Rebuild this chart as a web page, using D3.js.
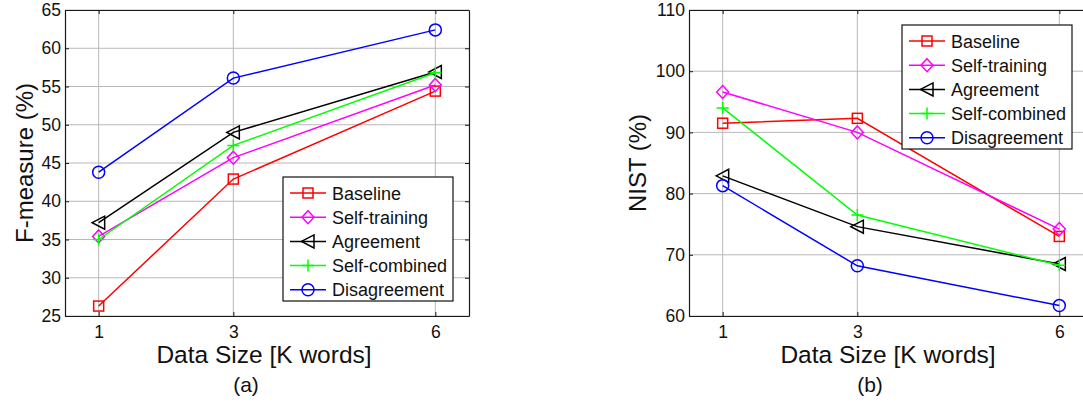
<!DOCTYPE html>
<html>
<head>
<meta charset="utf-8">
<script src="https://cdn.jsdelivr.net/npm/d3@7"></script>
<style>
  body { margin: 0; background: #fff; }
  svg { display: block; }
  text { font-family: "Liberation Sans", Arial, sans-serif; fill: #111; }
</style>
</head>
<body>
<svg id="fig"></svg>
<script>
// data sizes on the x axis (K words)
var sizes = [1, 3, 6];
var seriesNames = ["Baseline", "Self-training", "Agreement", "Self-combined", "Disagreement"];

// (a) F-measure (%)
var fBaseline     = [26.3, 42.9, 54.4];
var fSelfTraining = [35.4, 45.7, 55.2];
var fAgreement    = [37.2, 49.0, 56.9];
var fSelfCombined = [35.0, 47.3, 56.8];
var fDisagreement = [43.8, 56.1, 62.4];

// (b) NIST (%)
var nBaseline     = [91.5, 92.3, 73.0];
var nSelfTraining = [96.6, 90.0, 74.2];
var nAgreement    = [82.9, 74.6, 68.5];
var nSelfCombined = [94.0, 76.5, 68.3];
var nDisagreement = [81.3, 68.2, 61.7];

var fTicks = [25, 30, 35, 40, 45, 50, 55, 60, 65];
var nTicks = [60, 70, 80, 90, 100, 110];

var width = 1083;
var height = 412;

var colors = ["#ff0000", "#ff00ff", "#000000", "#00ff00", "#0000ff"];
var markers = ["square", "diamond", "triangleLeft", "plus", "circle"];

var svg = d3.select('#fig')
    .attr('width', width)
    .attr('height', height);

drawPanel({
    left: 65, top: 10, w: 404, h: 306,
    yDomain: [25, 65], yTicks: fTicks,
    yLabel: 'F-measure (%)', yLabelX: 33,
    series: [fBaseline, fSelfTraining, fAgreement, fSelfCombined, fDisagreement],
    legend: {x: 283, y: 177},
    tag: '(a)'
});

drawPanel({
    left: 689, top: 10, w: 404, h: 306,
    yDomain: [60, 110], yTicks: nTicks,
    yLabel: 'NIST (%)', yLabelX: 646,
    series: [nBaseline, nSelfTraining, nAgreement, nSelfCombined, nDisagreement],
    legend: {x: 902, y: 25},
    tag: '(b)'
});

//HELPERS
function drawPanel(cfg) {
    var x = d3.scaleLinear().domain([0.5, 6.5]).range([cfg.left, cfg.left + cfg.w]);
    var y = d3.scaleLinear().domain(cfg.yDomain).range([cfg.top + cfg.h, cfg.top]);
    var g = svg.append('g');

    // grid
    g.selectAll('.gx').data(sizes).enter().append('line')
        .attr('x1', d => x(d)).attr('x2', d => x(d))
        .attr('y1', cfg.top).attr('y2', cfg.top + cfg.h)
        .attr('stroke', '#b8b8b8').attr('stroke-width', 1);
    g.selectAll('.gy').data(cfg.yTicks).enter().append('line')
        .attr('x1', cfg.left).attr('x2', cfg.left + cfg.w)
        .attr('y1', d => y(d)).attr('y2', d => y(d))
        .attr('stroke', '#b8b8b8').attr('stroke-width', 1);

    // axes: ticks inside, labels outside
    var bottom = g.append('g')
        .attr('transform', `translate(0, ${cfg.top + cfg.h})`)
        .call(d3.axisBottom(x).tickValues(sizes).tickFormat(d3.format('d'))
            .tickSizeInner(-4).tickSizeOuter(0).tickPadding(10));
    var topAx = g.append('g')
        .attr('transform', `translate(0, ${cfg.top})`)
        .call(d3.axisTop(x).tickValues(sizes).tickSizeInner(-4).tickSizeOuter(0).tickFormat(''));
    var leftAx = g.append('g')
        .attr('transform', `translate(${cfg.left}, 0)`)
        .call(d3.axisLeft(y).tickValues(cfg.yTicks).tickFormat(d3.format('d'))
            .tickSizeInner(-4).tickSizeOuter(0).tickPadding(4));
    var rightAx = g.append('g')
        .attr('transform', `translate(${cfg.left + cfg.w}, 0)`)
        .call(d3.axisRight(y).tickValues(cfg.yTicks).tickSizeInner(-4).tickSizeOuter(0).tickFormat(''));
    [bottom, topAx, leftAx, rightAx].forEach(function(a) {
        a.select('.domain').attr('stroke', '#1a1a1a').attr('stroke-width', 1.2);
        a.selectAll('.tick line').attr('stroke', '#1a1a1a');
        a.selectAll('.tick text').attr('font-size', 17.5).attr('fill', '#111');
    });

    // lines + markers
    var line = d3.line().x((d, i) => x(sizes[i])).y(d => y(d));
    cfg.series.forEach(function(vals, s) {
        g.append('path')
            .attr('d', line(vals))
            .attr('fill', 'none')
            .attr('stroke', colors[s])
            .attr('stroke-width', 1.5);
        vals.forEach(function(v, i) {
            drawMarker(g, markers[s], x(sizes[i]), y(v), colors[s]);
        });
    });

    // axis labels
    g.append('text')
        .attr('transform', `translate(${cfg.yLabelX}, ${cfg.top + cfg.h / 2}) rotate(-90)`)
        .attr('text-anchor', 'middle')
        .attr('font-size', 24)
        .text(cfg.yLabel);
    g.append('text')
        .attr('x', cfg.left + cfg.w / 2 - 3)
        .attr('y', 363)
        .attr('text-anchor', 'middle')
        .attr('font-size', 24.5)
        .text('Data Size [K words]');
    g.append('text')
        .attr('x', cfg.left + 181)
        .attr('y', 392)
        .attr('text-anchor', 'middle')
        .attr('font-size', 21)
        .text(cfg.tag);

    // legend
    var lg = g.append('g').attr('transform', `translate(${cfg.legend.x}, ${cfg.legend.y})`);
    lg.append('rect')
        .attr('width', 170).attr('height', 124)
        .attr('fill', '#fff').attr('stroke', '#111').attr('stroke-width', 1.2);
    seriesNames.forEach(function(name, s) {
        var cy = 16 + s * 24.2;
        lg.append('line')
            .attr('x1', 7).attr('x2', 43)
            .attr('y1', cy).attr('y2', cy)
            .attr('stroke', colors[s]).attr('stroke-width', 1.5);
        drawMarker(lg, markers[s], 25, cy, colors[s]);
        lg.append('text')
            .attr('x', 49).attr('y', cy + 6.5)
            .attr('font-size', 18)
            .text(name);
    });
}

function drawMarker(parent, type, cx, cy, color) {
    var m;
    if (type === 'square') {
        m = parent.append('rect')
            .attr('x', cx - 5).attr('y', cy - 5)
            .attr('width', 10).attr('height', 10);
    } else if (type === 'diamond') {
        m = parent.append('path')
            .attr('d', `M${cx},${cy - 6.5}L${cx + 6},${cy}L${cx},${cy + 6.5}L${cx - 6},${cy}Z`);
    } else if (type === 'triangleLeft') {
        m = parent.append('path')
            .attr('d', `M${cx - 6.5},${cy}L${cx + 6},${cy - 6.5}L${cx + 6},${cy + 6.5}Z`);
    } else if (type === 'plus') {
        m = parent.append('path')
            .attr('d', `M${cx - 6},${cy}L${cx + 6},${cy}M${cx},${cy - 6}L${cx},${cy + 6}`);
    } else {
        m = parent.append('circle')
            .attr('cx', cx).attr('cy', cy).attr('r', 6);
    }
    m.attr('fill', 'none').attr('stroke', color).attr('stroke-width', 1.5);
}
</script>
</body>
</html>
